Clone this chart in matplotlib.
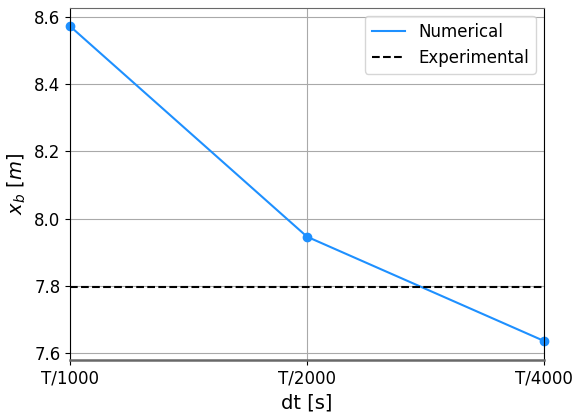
import matplotlib.pyplot as plt

labels = ["T/1000", "T/2000", "T/4000"]
xb_numerical = [8.572, 7.946, 7.636]
xb_experimental = 7.795

fig, ax = plt.subplots(figsize=(5.75, 4.12), dpi=100)

x = list(range(len(labels)))
ax.plot(x, xb_numerical, color="dodgerblue", label="Numerical")
ax.plot(x, xb_numerical, "o", color="dodgerblue", markersize=6, clip_on=False)
ax.axhline(xb_experimental, color="black", linestyle="--", label="Experimental")

ax.set_xticks(x)
ax.set_xticklabels(labels)
ax.set_xlim(0, 2)
ax.set_ylim(7.579, 8.627)
ax.grid(True, color="darkgray")
ax.spines["top"].set_color("dimgray")
ax.spines["bottom"].set_color("dimgray")
ax.spines["bottom"].set_linewidth(1.8)

ax.tick_params(labelsize=12)
ax.set_xlabel("dt [s]", fontsize=14)
ax.set_ylabel("$x_b\\ [m]$", fontsize=14)
ax.legend(loc="upper right", fontsize=12)

plt.subplots_adjust(left=0.122, right=0.946, top=0.981, bottom=0.126)
plt.savefig("out.png")
